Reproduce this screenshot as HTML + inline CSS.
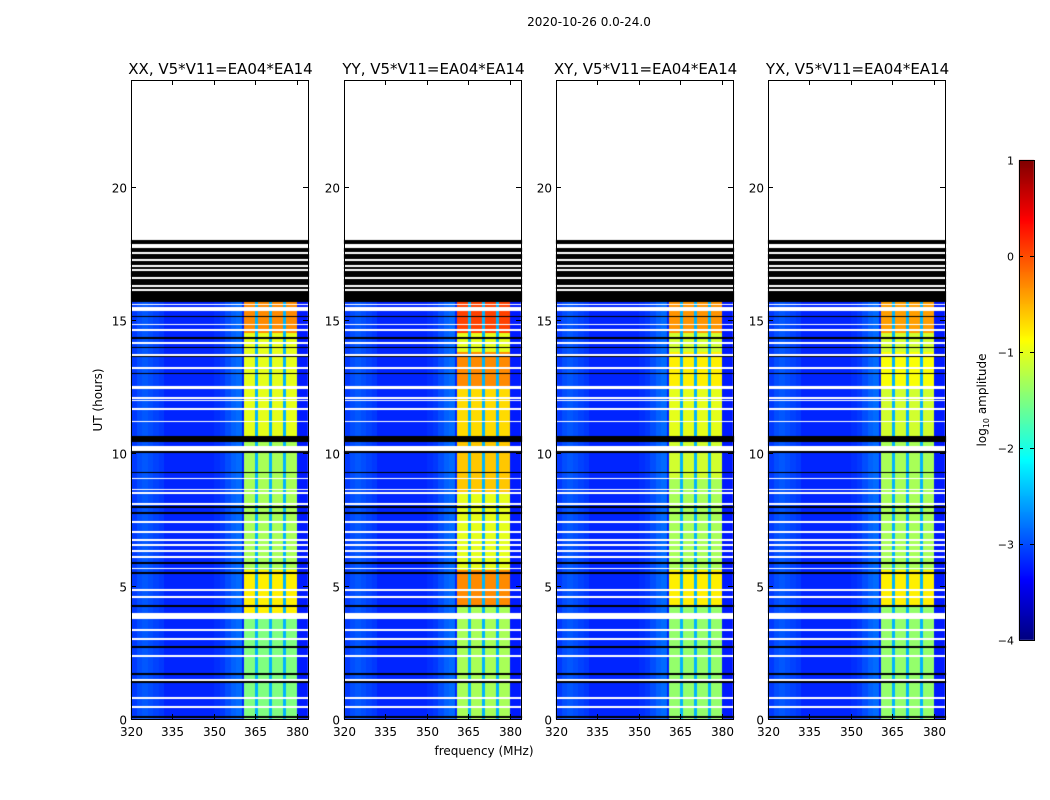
<!DOCTYPE html>
<html><head><meta charset="utf-8"><style>
body{margin:0;background:#fff;font-family:"DejaVu Sans","Liberation Sans",sans-serif;}
#root{position:relative;width:1050px;height:800px;overflow:hidden;background:#fff;}
canvas{position:absolute;left:0;top:0;}
</style></head><body>
<div id="root">
<canvas id="cv" width="1050" height="800"></canvas>
<svg id="sv" width="1050" height="800" style="position:absolute;left:0;top:0;font-family:'DejaVu Sans','Liberation Sans',sans-serif"></svg>
</div>
<script>
// ---- data ----
const panelTitles = ["XX, V5*V11=EA04*EA14","YY, V5*V11=EA04*EA14","XY, V5*V11=EA04*EA14","YX, V5*V11=EA04*EA14"];
const xTicks = [320,335,350,365,380];
const yTicks = [0,5,10,15,20];
const cbTicks = [1,0,-1,-2,-3,-4];
// background level per 2-MHz bin starting 320 MHz (log10 amp)
const bgProfile = [-3.1,-3.0,-2.95,-3.0,-3.05,-3.1,-3.2,-3.2,-3.2,-3.2,-3.2,-3.2,-3.2,-3.2,-3.2,-3.15,-3.1,-3.0,-2.9,-2.85,-3.2,-3.2,-3.2,-3.2,-3.2,-3.2,-3.2,-3.2,-3.2,-3.2,-3.25,-3.25];
const bandStart = 361, bandEnd = 380;
const gapChans = [365,370,375];
// band level segments per panel: [fromHour, toHour, level]
const bandSegXX = [[0,4.0,-1.5],[4.0,5.6,-0.8],[5.6,10.5,-1.3],[10.5,14.5,-1.0],[14.5,15.65,-0.3]];
const bandSegYY = [[0,4.2,-1.3],[4.2,5.6,-0.3],[5.6,8.5,-1.0],[8.5,10.5,-0.6],[10.5,12.5,-0.7],[12.5,13.8,-0.3],[13.8,14.5,-1.0],[14.5,15.65,0.05]];
const bandSegXY = [[0,4.2,-1.4],[4.2,5.6,-0.8],[5.6,9.0,-1.3],[9.0,10.5,-1.1],[10.5,12.5,-1.0],[12.5,13.8,-0.8],[13.8,14.5,-1.1],[14.5,15.65,-0.35]];
const bandSegYX = [[0,4.2,-1.4],[4.2,5.6,-0.8],[5.6,10.5,-1.3],[10.5,12.5,-1.1],[12.5,13.8,-0.9],[13.8,14.5,-1.1],[14.5,15.65,-0.4]];
const bandSegs = [bandSegXX,bandSegYY,bandSegXY,bandSegYX];
const whiteLines = [0.46,0.78,1.46,2.36,2.99,3.34,4.59,4.84,5.65,6.07,6.3,6.55,6.72,7.03,7.39,8.09,8.49,8.62,9.03,11.17,11.64,11.96,12.06,12.43,12.49,13.18,13.68,14.13,14.62,14.82,15.35,15.45,15.57,16.12,16.25,16.57,16.87,17.0,17.25,17.5,17.72,17.79];
const whiteBlocks = [[3.75,3.97],[10.07,10.26],[18.0,24.0]];
const blackLines = [0.09,1.39,1.69,2.69,4.25,5.49,5.86,7.74,7.95,9.26,10.02,12.98,13.62,13.95,14.32,15.12];
const blackBlocks = [[10.4,10.62],[15.65,18.0]];

// ---- layout ----
const panelX = [131,344,556,768], panelW = 177, yTop = 80, yBot = 719;
const fMin = 320, fMax = 384, hMax = 24;
const xs = (p,f)=>panelX[p] + (f-fMin)/(fMax-fMin)*panelW;
const ys = h=>yBot - h/hMax*(yBot-yTop);
const hOf = y=>(yBot-y)/(yBot-yTop)*hMax;
function jet(v){const t=Math.max(0,Math.min(1,(v+4)/5));const c=x=>Math.round(255*Math.max(0,Math.min(1,x)));
 return `rgb(${c(1.5-Math.abs(4*t-3))},${c(1.5-Math.abs(4*t-2))},${c(1.5-Math.abs(4*t-1))})`;}
const cbY = v=>160 + (1-v)/5*480;

const ctx = document.getElementById('cv').getContext('2d');
const pxH = hMax/(yBot-yTop);
function near(list,h){return list.some(l=>Math.abs(l-h)<pxH*0.9);}
function inBlock(list,h){return list.some(b=>h>=b[0]&&h<b[1]);}
for(let p=0;p<4;p++){
  for(let y=yTop;y<yBot;y++){
    const hc=hOf(y+0.5);
    let mode='d';
    if(inBlock(whiteBlocks,hc)||near(whiteLines,hc)) mode='w';
    else if(inBlock(blackBlocks,hc)||near(blackLines,hc)) mode='k';
    if(mode==='w') continue;
    if(mode==='k'){ctx.fillStyle='#000';ctx.fillRect(panelX[p],y,panelW+1,1);continue;}
    const seg=bandSegs[p].find(s=>hc>=s[0]&&hc<s[1]);
    const bl=seg?seg[2]:-1.3;
    for(let f=fMin;f<fMax;f+=1){
      let v;
      if(f>=bandStart&&f<bandEnd){v=gapChans.includes(f)?-2.5:bl;}
      else v=bgProfile[Math.floor((f-fMin)/2)];
      ctx.fillStyle=jet(v);
      const x0=Math.round(xs(p,f)), x1=Math.round(xs(p,f+1));
      ctx.fillRect(x0,y,Math.min(x1,panelX[p]+panelW+1)-x0,1);
    }
  }
}
// colorbar
for(let i=0;i<480;i++){const v=1-(i+0.5)/480*5;ctx.fillStyle=jet(v);ctx.fillRect(1019,160+i,15,1);}

// ---- SVG overlay ----
const NS='http://www.w3.org/2000/svg', sv=document.getElementById('sv');
function el(tag,attrs,text){const e=document.createElementNS(NS,tag);for(const k in attrs)e.setAttribute(k,attrs[k]);if(text!==undefined)e.textContent=text;sv.appendChild(e);return e;}
let t=el('text',{x:589,y:26,'text-anchor':'middle','font-size':12});t.textContent='2020-10-26 0.0-24.0';


for(let p=0;p<4;p++){
  const x0=panelX[p];
  let r=el('rect',{x:x0+0.5,y:yTop+0.5,width:panelW,height:yBot-yTop,fill:'none',stroke:'#000','stroke-width':1});
  
  
  let tt=el('text',{x:x0+panelW/2+1,y:74,'text-anchor':'middle','font-size':15},panelTitles[p]);
  
  
  xTicks.forEach(f=>{const x=Math.round(xs(p,f))+0.5;
    el('line',{x1:x,x2:x,y1:yBot,y2:yBot-5,stroke:'#000'});el('line',{x1:x,x2:x,y1:yTop,y2:yTop+5,stroke:'#000'});
    const l=el('text',{x:x,y:yBot+17,'text-anchor':'middle','font-size':12},String(f));
    
    });
  yTicks.forEach(h=>{const y=Math.round(ys(h))+0.5;
    el('line',{x1:x0,x2:x0+5,y1:y,y2:y,stroke:'#000'});el('line',{x1:x0+panelW,x2:x0+panelW-5,y1:y,y2:y,stroke:'#000'});
    const l=el('text',{x:x0-4,y:y+5,'text-anchor':'end','font-size':12},String(h));
    
    });
}
let xl=el('text',{x:484,y:755,'text-anchor':'middle','font-size':12},'frequency (MHz)');


let yl=el('text',{x:102,y:400,'text-anchor':'middle','font-size':12,transform:'rotate(-90 102 400)'},'UT (hours)');


let cbr=el('rect',{x:1019.5,y:160.5,width:15,height:480,fill:'none',stroke:'#000'});


cbTicks.forEach(v=>{const y=Math.round(cbY(v))+0.5;
  el('line',{x1:1019,x2:1023,y1:y,y2:y,stroke:'#000'});el('line',{x1:1034,x2:1030,y1:y,y2:y,stroke:'#000'});
  const l=el('text',{x:1014,y:y+4,'text-anchor':'end','font-size':11},(v<0?'\u2212':'')+Math.abs(v));
  
  });
const cl=el('text',{x:986,y:400,'text-anchor':'middle','font-size':12,transform:'rotate(-90 986 400)'});


cl.innerHTML='log<tspan font-size="8" dy="3">10</tspan><tspan dy="-3"> amplitude</tspan>';
</script>
</body></html>
